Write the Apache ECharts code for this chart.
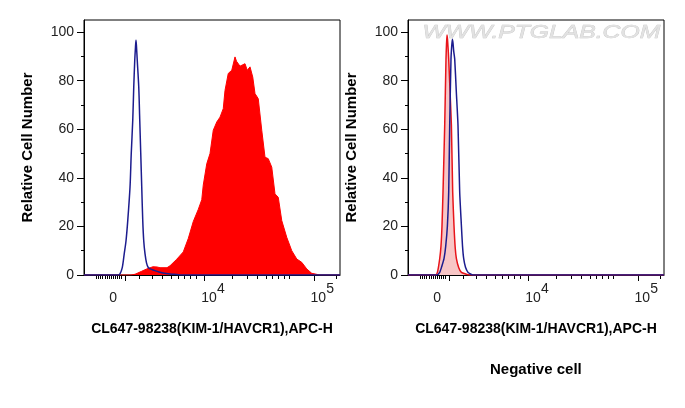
<!DOCTYPE html>
<html>
<head>
<meta charset="utf-8">
<script src="https://cdn.jsdelivr.net/npm/echarts@6/dist/echarts.min.js"></script>
<style>html,body{margin:0;padding:0;background:#fff;}#c{width:685px;height:408px;}</style>
</head>
<body>
<div id="c"></div>
<script>
// x axis is in display channels (0..1024) of the biexponential scale
const xMin = 0, xMax = 1024;
const xLabelPos = [124, 482, 919];
const xLabelText = ['0', '10|4', '10|5'];
const xTickMajor = [163, 482, 919];
const xTickMinor = [47, 56, 65, 74, 83, 92, 100, 108, 116, 124, 132, 140, 147,
  220, 273, 313, 349, 377, 400, 424, 447,
  593, 653, 693, 727, 753, 777, 800, 820, 1007];
const yTickMajor = [0, 20, 40, 60, 80, 100];
const yTickMinor = [10, 30, 50, 70, 90];
const yName = 'Relative Cell Number';
const xName = 'CL647-98238(KIM-1/HAVCR1),APC-H';
const caption = 'Negative cell';
const watermark = 'WWW.PTGLAB.COM';

// left panel: stained sample (red fill) and isotype control (blue line)
const leftStained = [[0,0],[188,0],[204,0.3],[230,1.5],[251,2.5],[276,3.4],[292,3.3],[304,3.0],[332,3.0],[344,3.8],
  [371,6.5],[397,9.5],[417,15],[437,22],[457,27],[471,31],[477,37],[491,45.8],[504,50],[517,59.6],
  [531,63],[544,65],[557,68.5],[564,76],[577,83],[591,84.3],[604,89.8],[610,88],[617,87.7],[624,86],[631,85.7],
  [644,87],[653,84.3],[664,85.7],[675,81.5],[684,74.7],[697,72.6],[711,59.6],[724,48.5],[737,47.9],
  [751,44.4],[764,33.4],[777,32],[791,22.4],[811,15.5],[831,10],[851,6.6],[871,5.2],[891,2.5],
  [911,0.7],[944,0],[1024,0]];
const leftControl = [[0,0],[136,0],[144,0.5],[153,3],[161,8.8],[168,14],[175,22.4],[184,36],[189,50],[195,63.7],
  [199,77.4],[203,88.4],[206,94],[208,96.7],[210,94],[213,88.4],[219,77.4],[223,63.7],[227,50],[231,36],
  [235,22.4],[239,14],[244,8.8],[250,5],[257,3.1],[270,2.3],[284,1.8],[300,1.2],[316,0.8],[344,0.4],
  [371,0.2],[390,0],[1024,0]];

// right panel: negative cell (red line, pink fill) and control (blue line)
const rightStained = [[0,0],[110,0],[117.6,1.1],[126.8,6.7],[132,12],[136,20.3],[140,34.1],[146.8,61.6],
  [152,89],[154,95],[156,98.8],[158,97],[160,94],[162.8,89],[168,76],[173.6,61.6],[178.8,34.1],[184,20.3],
  [189,11],[193.6,6.7],[203,3],[213.6,1.1],[233.6,0.3],[245,0],[1024,0]];
const rightControl = [[0,0],[115,0],[126.8,1.1],[135,3.5],[144,6.7],[151,12],[157.6,20.3],[162.8,34.1],
  [166.8,61.6],[172,89],[175,94.5],[177.6,97.1],[180,95.5],[183,92],[186.8,89],[193,76],[200,61.6],
  [206.8,34.1],[213.6,20.3],[218,12],[222.8,6.7],[230,3.2],[240,1.1],[250,0.4],[260,0],[1024,0]];

const FONT = 'Liberation Sans, Arial, Helvetica, sans-serif';
const RED = '#ff0000';
const BLUE = '#1c1c8e';

function labelFmt(v) {
  const i = xLabelPos.indexOf(v);
  if (i < 0) return '';
  const t = xLabelText[i].split('|');
  if (t.length === 1) return '{base|' + t[0] + '}{sup| }';
  return '{pad|}{base|' + t[0] + '}{sup|' + t[1] + '}';
}

const grids = [
  {left: 84, top: 20, width: 256, height: 255},
  {left: 408, top: 20, width: 256, height: 255}
];

const xAxes = [], yAxes = [];
grids.forEach((g, gi) => {
  xAxes.push({
    type: 'value', gridIndex: gi, min: xMin, max: xMax, position: 'bottom',
    name: xName, nameLocation: 'middle', nameGap: 47,
    nameTextStyle: {fontFamily: FONT, fontSize: 14, fontWeight: 'bold', color: '#000'},
    axisLine: {show: true, lineStyle: {color: '#000', width: 1}},
    splitLine: {show: false},
    axisTick: {show: true, customValues: xTickMinor, length: 4, lineStyle: {color: '#000', width: 1}},
    axisLabel: {
      show: true, customValues: xLabelPos, margin: 14, formatter: labelFmt,
      rich: {
        pad: {width: 17, fontSize: 14},
        base: {fontFamily: FONT, fontSize: 14, color: '#222', lineHeight: 16, verticalAlign: 'bottom'},
        sup: {fontFamily: FONT, fontSize: 14, color: '#222', lineHeight: 16, padding: [0, 0, 9, 0], verticalAlign: 'bottom'}
      }
    }
  });
  xAxes.push({
    type: 'value', gridIndex: gi, min: xMin, max: xMax, position: 'bottom',
    axisLine: {show: false}, splitLine: {show: false}, axisLabel: {show: false},
    axisTick: {show: true, customValues: xTickMajor, length: 6, lineStyle: {color: '#000', width: 1}}
  });
  yAxes.push({
    type: 'value', gridIndex: gi, min: 0, max: 105, position: 'left',
    name: yName, nameLocation: 'middle', nameGap: 49, nameRotate: 90,
    nameTextStyle: {fontFamily: FONT, fontSize: 15, fontWeight: 'bold', color: '#000'},
    axisLine: {show: true, lineStyle: {color: '#000', width: 1}},
    splitLine: {show: false},
    axisTick: {show: true, customValues: yTickMajor, length: 7, lineStyle: {color: '#000', width: 1}},
    axisLabel: {show: true, customValues: yTickMajor, margin: 10, fontFamily: FONT, fontSize: 14, color: '#222'}
  });
  yAxes.push({
    type: 'value', gridIndex: gi, min: 0, max: 105, position: 'left',
    axisLine: {show: false}, splitLine: {show: false}, axisLabel: {show: false},
    axisTick: {show: true, customValues: yTickMinor, length: 3, lineStyle: {color: '#000', width: 1}}
  });
});

const option = {
  animation: false,
  backgroundColor: '#fff',
  grid: grids.map(g => Object.assign({show: true, borderColor: '#000', borderWidth: 1, backgroundColor: 'transparent'}, g)),
  xAxis: xAxes,
  yAxis: yAxes,
  graphic: [
    {type: 'text', left: 422, top: 23, z: 0, scaleX: 1.3,
      style: {text: watermark, font: 'italic 19px ' + FONT, fill: '#e2e2e2', stroke: '#c4c4c4', lineWidth: 0.6}},
    {type: 'text', left: 490, top: 362, style: {text: caption, font: 'bold 15px ' + FONT, fill: '#000'}}
  ],
  series: [
    {type: 'line', xAxisIndex: 0, yAxisIndex: 0, data: leftStained, symbol: 'none', z: 2,
      lineStyle: {color: RED, width: 1}, areaStyle: {color: RED, opacity: 1}},
    {type: 'line', xAxisIndex: 0, yAxisIndex: 0, data: leftControl, symbol: 'none', z: 3, smooth: 0.3,
      lineStyle: {color: BLUE, width: 1.5}},
    {type: 'line', xAxisIndex: 2, yAxisIndex: 2, data: rightStained, symbol: 'none', z: 2, smooth: 0.2,
      lineStyle: {color: '#e8141a', width: 1.5}, areaStyle: {color: '#f8c6c6', opacity: 1}},
    {type: 'line', xAxisIndex: 2, yAxisIndex: 2, data: rightControl, symbol: 'none', z: 3, smooth: 0.2,
      lineStyle: {color: BLUE, width: 1.5}}
  ]
};

const chart = echarts.init(document.getElementById('c'), null, {renderer: 'canvas'});
chart.setOption(option);
</script>
</body>
</html>
